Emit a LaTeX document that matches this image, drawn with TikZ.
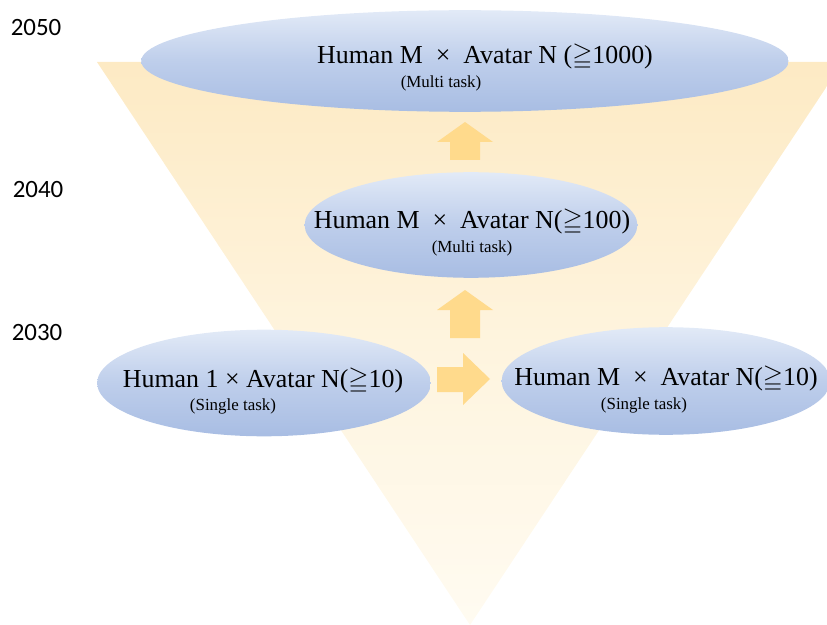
\documentclass[tikz,border=0pt]{standalone}
\usepackage{amssymb}
\usepackage{fontspec}
\setmainfont{Liberation Serif}
\newfontfamily\yearfont{Carlito}
\usetikzlibrary{shapes.geometric}
\definecolor{triTop}{RGB}{253,234,196}
\definecolor{triMid}{RGB}{254,244,222}
\definecolor{triBot}{RGB}{255,251,241}
\definecolor{arrowCol}{RGB}{255,218,140}
\definecolor{ellTop}{RGB}{226,234,247}
\definecolor{ellMid}{RGB}{190,206,235}
\definecolor{ellBot}{RGB}{168,189,227}
\tikzset{
  blob/.style={ellipse, draw=none, inner sep=0pt, top color=ellTop, bottom color=ellBot, middle color=ellMid},
  maintext/.style={inner sep=0pt, anchor=center, font=\fontsize{26}{30}\selectfont},
  subtext/.style={inner sep=0pt, anchor=center, font=\fontsize{17}{20}\selectfont},
  yeartext/.style={inner sep=0pt, anchor=center, font=\yearfont\fontsize{25}{30}\selectfont},
  blockarrow/.style={fill=arrowCol, draw=none}
}
\begin{document}
\begin{tikzpicture}[x=1bp,y=-1bp]
\useasboundingbox (0,0) rectangle (827,625);
\clip (0,0) rectangle (827,625);
% funnel
\shade[top color=triTop, bottom color=triBot, middle color=triMid] (97,62) -- (843,62) -- (470,625) -- cycle;
% arrows
\fill[blockarrow] (450,160) -- (450,142) -- (437,142) -- (465,122) -- (493,142) -- (480,142) -- (480,160) -- cycle;
\fill[blockarrow] (450,338) -- (450,310) -- (437,310) -- (465,290) -- (493,310) -- (480,310) -- (480,338) -- cycle;
\fill[blockarrow] (437,367) -- (463,367) -- (463,353) -- (490,379) -- (463,405) -- (463,392) -- (437,392) -- cycle;
% ellipses
\node[blob, minimum width=650, minimum height=102] (top) at (465,61) {};
\node[blob, minimum width=334, minimum height=106] (mid) at (471,225) {};
\node[blob, minimum width=335, minimum height=107] (bl) at (264,383) {};
\node[blob, minimum width=330, minimum height=108] (br) at (666,381) {};
% texts
\node[maintext] (topmain) at (485,57) {Human M\ \ ×\ \ Avatar N ($\geqq$1000)};
\node[subtext] (topsub) at (441,83) {(Multi task)};
\node[maintext] (midmain) at (472,222) {Human M\ \ ×\ \ Avatar N($\geqq$100)};
\node[subtext] (midsub) at (472,248) {(Multi task)};
\node[maintext] (blmain) at (263,381) {Human 1 × Avatar N($\geqq$10)};
\node[subtext] (blsub) at (233,406) {(Single task)};
\node[maintext] (brmain) at (666,379) {Human M\ \ ×\ \ Avatar N($\geqq$10)};
\node[subtext] (brsub) at (644,405) {(Single task)};
% years
\node[yeartext] (y2050) at (36,28) {2050};
\node[yeartext] (y2040) at (38,190) {2040};
\node[yeartext] (y2030) at (37,333) {2030};
\end{tikzpicture}
\end{document}
